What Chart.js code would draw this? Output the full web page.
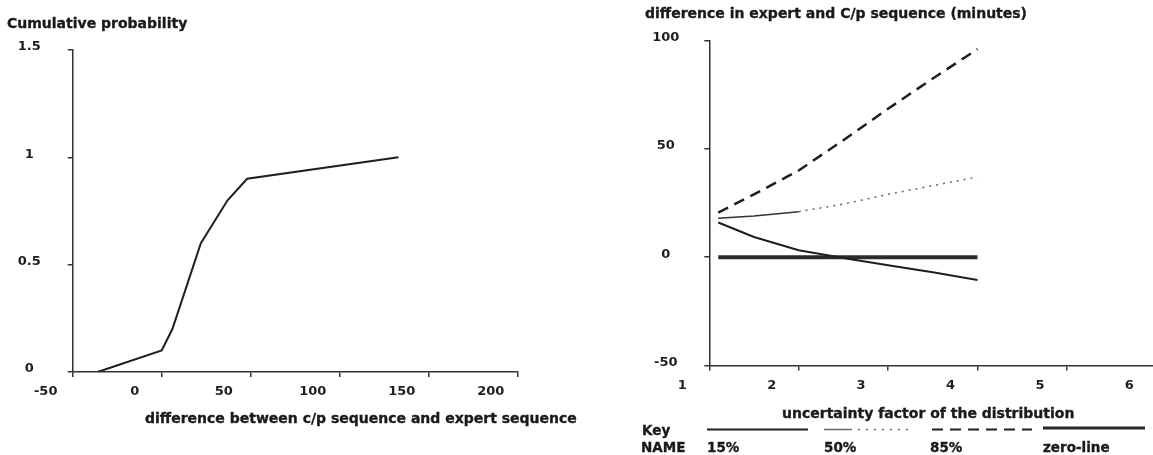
<!DOCTYPE html>
<html>
<head>
<meta charset="utf-8">
<script src="https://cdn.jsdelivr.net/npm/chart.js@4"></script>
<style>
  html, body { margin:0; padding:0; width:1153px; height:455px; overflow:hidden; background:#fff; }
  canvas { position:absolute; top:0; }
  #c1 { left:0; }
  #c2 { left:600px; }
  .t { position:absolute; font-family:"DejaVu Sans", sans-serif; font-weight:bold; color:#1a1a1a;
       white-space:nowrap; font-size:14px; line-height:16px; height:16px;
       -webkit-text-stroke:0.35px #1a1a1a; }
  .s { font-size:13.5px; }
</style>
</head>
<body>
<canvas id="c1" width="600" height="455"></canvas>
<canvas id="c2" width="570" height="455"></canvas>

<div class="t" style="left:7px;top:15px">Cumulative probability</div>
<div class="t" style="left:145px;top:410px">difference between c/p sequence and expert sequence</div>
<div class="t" style="left:645px;top:5px">difference in expert and C/p sequence (minutes)</div>
<div class="t" style="left:782px;top:405px">uncertainty factor of the distribution</div>
<div class="t s" style="left:642px;top:422px">Key</div>
<div class="t s" style="left:641px;top:439px">NAME</div>
<div class="t s" id="n0" style="left:707px;top:439px"></div>
<div class="t s" id="n1" style="left:824px;top:439px"></div>
<div class="t s" id="n2" style="left:930px;top:439px"></div>
<div class="t s" id="n3" style="left:1043px;top:439px"></div>

<script>
// ---- Left panel: cumulative distribution ----
const cdfDiff = [-36, 0, 6, 18, 22, 37, 48, 133];
const cdfProb = [0, 0.1, 0.2, 0.5, 0.6, 0.8, 0.9, 1.0];
const leftXTicks = [-50, 0, 50, 100, 150, 200];
const leftYTicks = [0, 0.5, 1, 1.5];

// ---- Right panel: difference vs uncertainty factor ----
const uncFactor = [1.1, 1.5, 2, 2.5, 3, 3.5, 4];
const p15 = [16, 9.3, 3.2, -0.4, -3.7, -7.0, -10.5];
const p50 = [18, 19, 21, 24.5, 29, 33, 37];
const p85 = [20.6, 29, 40, 54, 68.5, 82.5, 96];
const zeroLine = [0, 0, 0, 0, 0, 0, 0];
const rightXTicks = [1, 2, 3, 4, 5, 6];
const rightYTicks = [-50, 0, 50, 100];
const seriesNames = ['15%', '50%', '85%', 'zero-line'];

const INK = '#1e1e1e';
const FONT = { family: 'DejaVu Sans', weight: 'bold', size: 13 };

seriesNames.forEach((n, i) => { document.getElementById('n' + i).textContent = n; });

const pts = (xs, ys) => xs.map((x, i) => ({ x: x, y: ys[i] }));

function xAxis(min, max, ticks, height) {
  return {
    type: 'linear', min: min, max: max,
    afterBuildTicks: s => { s.ticks = ticks.map(v => ({ value: v })); },
    afterFit: s => { s.height = height; },
    ticks: { font: FONT, color: INK, labelOffset: -27, padding: 7, maxRotation: 0, autoSkip: false,
             callback: v => String(v) },
    grid: { drawOnChartArea: false, drawTicks: true, tickLength: 5, color: '#333', lineWidth: 1.5 },
    border: { display: true, color: '#333', width: 1.5 }
  };
}
function yAxis(min, max, ticks, width, pad) {
  return {
    type: 'linear', min: min, max: max,
    afterBuildTicks: s => { s.ticks = ticks.map(v => ({ value: v })); },
    afterFit: s => { s.width = width; },
    ticks: { font: FONT, color: INK, crossAlign: 'center', padding: pad, labelOffset: -3, autoSkip: false,
             callback: v => String(v) },
    grid: { drawOnChartArea: false, drawTicks: true, tickLength: 5, color: '#333', lineWidth: 1.5 },
    border: { display: true, color: '#333', width: 1.5 }
  };
}
const noPlugins = { legend: { display: false }, tooltip: { enabled: false }, title: { display: false } };

new Chart(document.getElementById('c1'), {
  type: 'line',
  data: { datasets: [{
    data: pts(cdfDiff, cdfProb), borderColor: INK, borderWidth: 2,
    pointRadius: 0, tension: 0, fill: false
  }] },
  options: {
    responsive: false, animation: false,
    layout: { padding: { left: 0, top: 50, right: 82.3, bottom: 43 } },
    scales: { x: xAxis(-50, 200, leftXTicks, 40), y: yAxis(0, 1.5, leftYTicks, 72.7, 27) },
    plugins: noPlugins
  }
});

// legend sample lines (Key row) drawn from the datasets' styles
const keyLines = [
  { x0: 707, x1: 808 },
  { x0: 824, x1: 910 },
  { x0: 932, x1: 1032 },
  { x0: 1043, x1: 1145 }
];
const keyPlugin = {
  id: 'keyPlugin',
  afterDraw(chart) {
    const ctx = chart.ctx;
    const off = 600;
    chart.data.datasets.forEach((ds, i) => {
      const k = keyLines[i];
      const y = i === 3 ? 428 : 429.5;
      ctx.save();
      ctx.lineWidth = i === 3 ? 3 : (i === 1 ? 1.5 : 2);
      ctx.strokeStyle = ds.borderColor;
      if (i === 1) {
        ctx.strokeStyle = '#666';
        ctx.beginPath(); ctx.moveTo(k.x0 - off, y); ctx.lineTo(k.x0 + 28 - off, y); ctx.stroke();
        ctx.setLineDash([2, 6]);
        ctx.beginPath(); ctx.moveTo(k.x0 + 34 - off, y); ctx.lineTo(k.x1 - off, y); ctx.stroke();
      } else {
        ctx.setLineDash(ds.borderDash || []);
        ctx.beginPath(); ctx.moveTo(k.x0 - off, y); ctx.lineTo(k.x1 - off, y); ctx.stroke();
      }
      ctx.restore();
    });
  }
};

new Chart(document.getElementById('c2'), {
  type: 'line',
  data: { datasets: [
    { label: seriesNames[0], data: pts(uncFactor, p15), borderColor: INK, borderWidth: 2,
      pointRadius: 0, tension: 0, fill: false },
    { label: seriesNames[1], data: pts(uncFactor, p50), borderColor: '#333', borderWidth: 1.5,
      pointRadius: 0, tension: 0, fill: false,
      segment: {
        borderDash: c => c.p0.parsed.x >= 2 ? [2, 5] : undefined,
        borderColor: c => c.p0.parsed.x >= 2 ? '#666' : undefined
      } },
    { label: seriesNames[2], data: pts(uncFactor, p85), borderColor: INK, borderWidth: 2.5,
      borderDash: [11, 7], pointRadius: 0, tension: 0, fill: false },
    { label: seriesNames[3], data: pts(uncFactor, zeroLine), borderColor: '#2a2a2a', borderWidth: 4,
      pointRadius: 0, tension: 0, fill: false }
  ] },
  options: {
    responsive: false, animation: false,
    layout: { padding: { left: 0, top: 40.5, right: 13.7, bottom: 49.5 } },
    scales: { x: xAxis(1, 6, rightXTicks, 40), y: yAxis(-50, 100, rightYTicks, 109.3, 25) },
    plugins: noPlugins
  },
  plugins: [keyPlugin]
});
</script>
</body>
</html>
